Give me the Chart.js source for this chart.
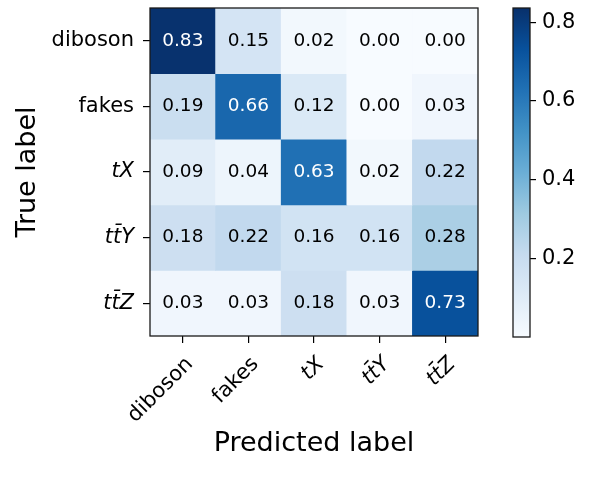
<!DOCTYPE html>
<html lang="en">
<head>
<meta charset="UTF-8">
<title>Confusion matrix</title>
<script src="https://cdn.jsdelivr.net/npm/chart.js@4.4.0/dist/chart.umd.min.js"></script>
<style>
    html, body { margin: 0; padding: 0; background: #fff; }
    #wrap { position: relative; width: 598px; height: 482px; overflow: hidden; }
    #matrix { position: absolute; left: 0; top: 0; }
    #cbar { position: absolute; left: 490px; top: 0; }
</style>
</head>
<body>
<div id="wrap">
    <canvas id="matrix" width="598" height="482"></canvas>
    <canvas id="cbar" width="108" height="482"></canvas>
</div>
<script>
// categories (rows = true label, columns = predicted label)
const trueLabels = ['diboson', 'fakes', 'tX', 'tt\u0304Y', 'tt\u0304Z'];
const predLabels = ['diboson', 'fakes', 'tX', 'tt\u0304Y', 'tt\u0304Z'];

// normalised confusion matrix rows
const rowDiboson = [0.83, 0.15, 0.02, 0.00, 0.00];
const rowFakes   = [0.19, 0.66, 0.12, 0.00, 0.03];
const rowTX      = [0.09, 0.04, 0.63, 0.02, 0.22];
const rowTTY     = [0.18, 0.22, 0.16, 0.16, 0.28];
const rowTTZ     = [0.03, 0.03, 0.18, 0.03, 0.73];
const rows = [rowDiboson, rowFakes, rowTX, rowTTY, rowTTZ];

// colorbar
const cbarMin = 0.0;
const cbarMax = 0.836;
const cbarTicks = [0.2, 0.4, 0.6, 0.8];

const FONT = 'DejaVu Sans';

// matplotlib "Blues"
const bluesStops = [
    [247, 251, 255], [222, 235, 247], [198, 219, 239], [158, 202, 225],
    [107, 174, 214], [66, 146, 198], [33, 113, 181], [8, 81, 156], [8, 48, 107]
];
function blues(t) {
    t = Math.max(0, Math.min(1, t));
    const p = t * 8;
    const i = Math.min(7, Math.floor(p));
    const f = p - i;
    const a = bluesStops[i], b = bluesStops[i + 1];
    const c = a.map((v, k) => Math.round(v + (b[k] - v) * f));
    return 'rgb(' + c.join(',') + ')';
}
function norm(v) { return (v - cbarMin) / (cbarMax - cbarMin); }

function tickFont(index) {
    return { family: FONT, size: 21, style: index >= 2 ? 'italic' : 'normal' };
}

// no extra room for half labels, keep plot box where matplotlib had it
function noPad(s) { s.paddingTop = 0; s.paddingBottom = 0; }

// frame round the plot area like matplotlib spines
const framePlugin = {
    id: 'frame',
    afterDraw(chart) {
        const a = chart.chartArea, ctx = chart.ctx;
        ctx.save();
        ctx.strokeStyle = '#1a1a1a';
        ctx.lineWidth = 1.3;
        ctx.strokeRect(a.left, a.top, a.right - a.left, a.bottom - a.top);
        ctx.restore();
    }
};

// numbers inside the cells
const cellText = {
    id: 'cellText',
    afterDatasetsDraw(chart) {
        const ctx = chart.ctx;
        ctx.save();
        ctx.font = '18.5px "' + FONT + '"';
        ctx.textAlign = 'center';
        ctx.textBaseline = 'middle';
        chart.data.datasets.forEach((ds, r) => {
            chart.getDatasetMeta(r).data.forEach((bar, c) => {
                const v = rows[r][c];
                const p = bar.getCenterPoint();
                ctx.fillStyle = v > cbarMax / 2 ? '#fff' : '#000';
                ctx.fillText(v.toFixed(2), p.x, p.y);
            });
        });
        ctx.restore();
    }
};

const datasets = rows.map((row, r) => ({
    label: trueLabels[r],
    data: row.map(() => [r - 0.5, r + 0.5]),
    backgroundColor: row.map(v => blues(norm(v))),
    borderWidth: 0,
    barPercentage: 1,
    categoryPercentage: 1,
    grouped: false
}));

new Chart(document.getElementById('matrix'), {
    type: 'bar',
    data: { labels: predLabels, datasets: datasets },
    plugins: [cellText, framePlugin],
    options: {
        responsive: false,
        animation: false,
        layout: { padding: { left: 12, top: 8, right: 120, bottom: 22 } },
        plugins: { legend: { display: false }, tooltip: { enabled: false } },
        scales: {
            x: {
                offset: true,
                grid: { offset: false, drawOnChartArea: false, tickLength: 7, color: '#000', lineWidth: 1.2 },
                border: { display: false },
                ticks: {
                    color: '#000', autoSkip: false, minRotation: 45, maxRotation: 45, padding: 9, labelOffset: 7,
                    font: ctx => tickFont(ctx.index)
                },
                title: { display: true, text: 'Predicted label', color: '#000', font: { family: FONT, size: 27 }, padding: 0 },
                afterFit: s => { s.height = 124; }
            },
            y: {
                type: 'linear', min: -0.5, max: 4.5, reverse: true,
                afterBuildTicks: s => { s.ticks = trueLabels.map((_, i) => ({ value: i })); },
                grid: { drawOnChartArea: false, tickLength: 7, color: '#000', lineWidth: 1.2 },
                border: { display: false },
                ticks: {
                    color: '#000', padding: 9, autoSkip: false,
                    callback: (v, i) => trueLabels[i],
                    font: ctx => tickFont(ctx.index)
                },
                title: { display: true, text: 'True label', color: '#000', font: { family: FONT, size: 27 }, padding: 0 },
                afterFit: s => { s.width = 138; noPad(s); }
            }
        }
    }
});

new Chart(document.getElementById('cbar'), {
    type: 'bar',
    data: {
        labels: [''],
        datasets: [{
            data: [[cbarMin, cbarMax]],
            borderWidth: 0,
            barPercentage: 1,
            categoryPercentage: 1,
            backgroundColor: ctx => {
                const a = ctx.chart.chartArea;
                if (!a) return blues(0.5);
                const g = ctx.chart.ctx.createLinearGradient(0, a.bottom, 0, a.top);
                bluesStops.forEach((c, i) => g.addColorStop(i / 8, 'rgb(' + c.join(',') + ')'));
                return g;
            }
        }]
    },
    plugins: [framePlugin],
    options: {
        responsive: false,
        animation: false,
        layout: { padding: { left: 23, top: 8, right: 0, bottom: 145 } },
        plugins: { legend: { display: false }, tooltip: { enabled: false } },
        scales: {
            x: { display: false },
            y: {
                position: 'right', min: cbarMin, max: cbarMax,
                afterBuildTicks: s => { s.ticks = cbarTicks.map(v => ({ value: v })); },
                grid: { drawOnChartArea: false, tickLength: 6, color: '#000', lineWidth: 1.2 },
                border: { display: false },
                ticks: { color: '#000', padding: 6, font: { family: FONT, size: 21 }, callback: v => v.toFixed(1) },
                afterFit: s => { s.width = 68; noPad(s); }
            }
        }
    }
});
</script>
</body>
</html>
